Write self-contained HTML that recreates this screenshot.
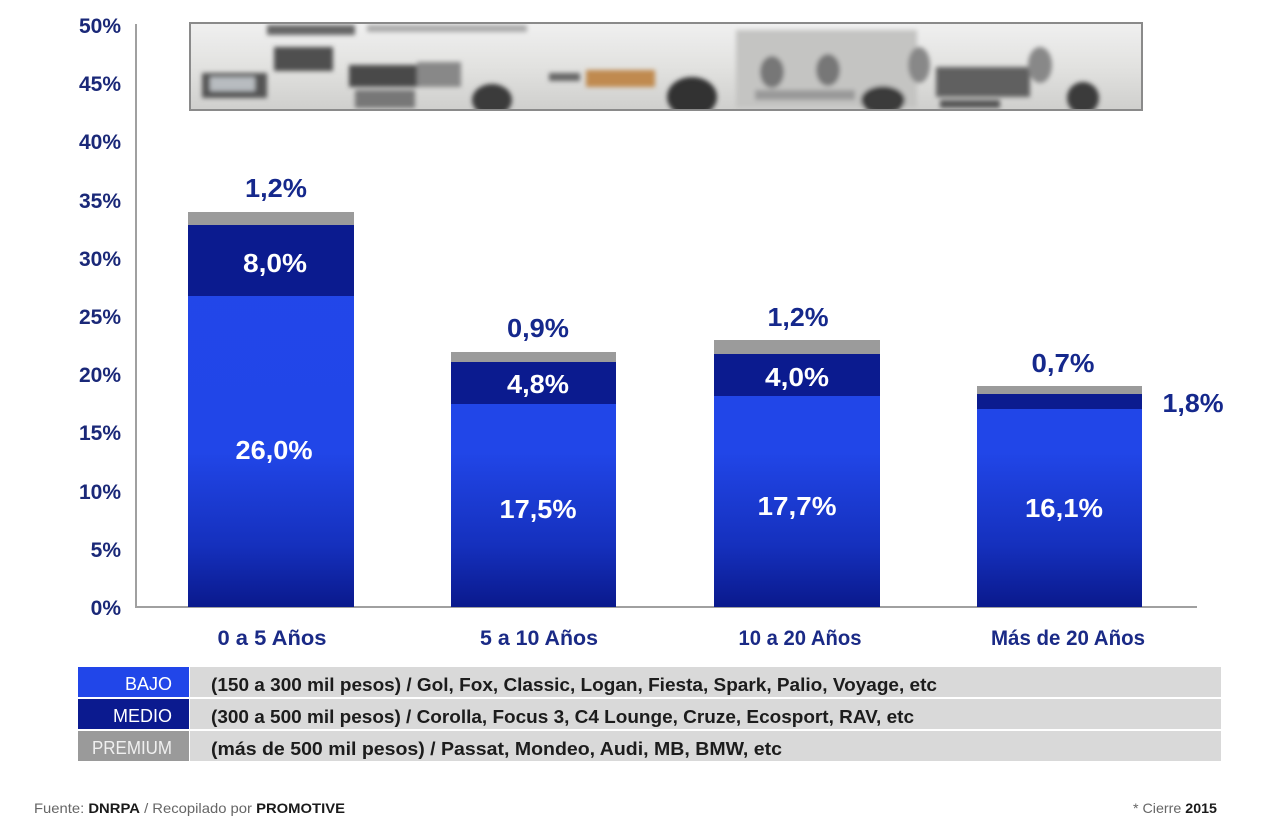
<!DOCTYPE html>
<html><head><meta charset="utf-8"><style>
html,body{margin:0;padding:0;background:#fff;}
svg{display:block;}
text{font-family:"Liberation Sans",sans-serif;}
</style></head><body>
<svg width="1280" height="836" viewBox="0 0 1280 836" xmlns="http://www.w3.org/2000/svg">
<defs>
<linearGradient id="bg" gradientUnits="userSpaceOnUse" x1="0" y1="200" x2="0" y2="607">
<stop offset="0" stop-color="#2247ea"/>
<stop offset="0.62" stop-color="#2146e8"/>
<stop offset="0.85" stop-color="#1530bd"/>
<stop offset="1" stop-color="#0a198c"/>
</linearGradient>
<linearGradient id="photo" x1="0" y1="0" x2="0" y2="1">
<stop offset="0" stop-color="#f0f0f0"/>
<stop offset="0.5" stop-color="#e2e2e0"/>
<stop offset="1" stop-color="#cfcfcd"/>
</linearGradient>
<filter id="bl"><feGaussianBlur stdDeviation="2.5"/></filter>
<clipPath id="pc"><rect x="190" y="23" width="952" height="87"/></clipPath>
</defs>

<!-- photo strip -->
<rect x="190" y="23" width="952" height="87" fill="url(#photo)"/>
<g clip-path="url(#pc)">
<g filter="url(#bl)">
<rect x="267" y="25" width="88" height="10" fill="#666"/>
<rect x="367" y="25" width="160" height="7" fill="#aaa"/>
<rect x="202" y="73" width="65" height="25" fill="#555"/>
<rect x="210" y="77" width="45" height="14" fill="#b8bcc0"/>
<rect x="274" y="47" width="59" height="24" fill="#505050"/>
<rect x="349" y="65" width="68" height="22" fill="#4a4a4a"/>
<rect x="417" y="62" width="44" height="25" fill="#888"/>
<rect x="355" y="90" width="60" height="18" fill="#777"/>
<ellipse cx="492" cy="100" rx="20" ry="16" fill="#3a3a3a"/>
<rect x="549" y="73" width="31" height="8" fill="#666"/>
<rect x="586" y="70" width="69" height="17" fill="#c08a50"/>
<ellipse cx="692" cy="97" rx="25" ry="20" fill="#333"/>
<rect x="736" y="30" width="181" height="78" fill="#c4c4c2"/>
<ellipse cx="772" cy="72" rx="12" ry="16" fill="#777"/>
<ellipse cx="828" cy="70" rx="12" ry="16" fill="#777"/>
<rect x="755" y="90" width="100" height="10" fill="#999"/>
<ellipse cx="883" cy="100" rx="22" ry="14" fill="#3a3a3a"/>
<rect x="936" y="67" width="94" height="30" fill="#606060"/>
<ellipse cx="919" cy="65" rx="11" ry="18" fill="#888"/>
<ellipse cx="1040" cy="65" rx="12" ry="18" fill="#888"/>
<ellipse cx="1083" cy="98" rx="16" ry="16" fill="#3a3a3a"/>
<rect x="940" y="100" width="60" height="8" fill="#555"/>
</g>
</g>
<rect x="190" y="23" width="952" height="87" fill="none" stroke="#8a8a8a" stroke-width="2"/>

<!-- axes -->
<line x1="136" y1="24" x2="136" y2="608" stroke="#a0a0a0" stroke-width="2"/>
<line x1="135" y1="607" x2="1197" y2="607" stroke="#a0a0a0" stroke-width="2"/>

<!-- y labels -->
<g font-size="21" font-weight="bold" fill="#1a2878" text-anchor="end">
<text x="121" y="33">50%</text>
<text x="121" y="91">45%</text>
<text x="121" y="149">40%</text>
<text x="121" y="208">35%</text>
<text x="121" y="266">30%</text>
<text x="121" y="324">25%</text>
<text x="121" y="382">20%</text>
<text x="121" y="440">15%</text>
<text x="121" y="499">10%</text>
<text x="121" y="557">5%</text>
<text x="121" y="615">0%</text>
</g>

<!-- bars -->
<g>
<rect x="188" y="212" width="166" height="13" fill="#9b9b9b"/>
<rect x="188" y="225" width="166" height="71" fill="#0b1b8f"/>
<rect x="188" y="296" width="166" height="311" fill="url(#bg)"/>

<rect x="451" y="352" width="165" height="10" fill="#9b9b9b"/>
<rect x="451" y="362" width="165" height="42" fill="#0b1b8f"/>
<rect x="451" y="404" width="165" height="203" fill="url(#bg)"/>

<rect x="714" y="340" width="166" height="14" fill="#9b9b9b"/>
<rect x="714" y="354" width="166" height="42" fill="#0b1b8f"/>
<rect x="714" y="396" width="166" height="211" fill="url(#bg)"/>

<rect x="977" y="386" width="165" height="8" fill="#9b9b9b"/>
<rect x="977" y="394" width="165" height="15" fill="#0b1b8f"/>
<rect x="977" y="409" width="165" height="198" fill="url(#bg)"/>
</g>

<!-- value labels -->
<g font-size="26" font-weight="bold" fill="#15288c" text-anchor="middle">
<text x="276" y="197" textLength="62" lengthAdjust="spacingAndGlyphs">1,2%</text>
<text x="538" y="337" textLength="62" lengthAdjust="spacingAndGlyphs">0,9%</text>
<text x="798" y="326" textLength="61" lengthAdjust="spacingAndGlyphs">1,2%</text>
<text x="1063" y="372" textLength="63" lengthAdjust="spacingAndGlyphs">0,7%</text>
<text x="1193" y="412" textLength="61" lengthAdjust="spacingAndGlyphs">1,8%</text>
</g>
<g font-size="26" font-weight="bold" fill="#ffffff" text-anchor="middle">
<text x="275" y="272" textLength="64" lengthAdjust="spacingAndGlyphs">8,0%</text>
<text x="538" y="393" textLength="62" lengthAdjust="spacingAndGlyphs">4,8%</text>
<text x="797" y="386" textLength="64" lengthAdjust="spacingAndGlyphs">4,0%</text>
<text x="274" y="459" textLength="77" lengthAdjust="spacingAndGlyphs">26,0%</text>
<text x="538" y="518" textLength="77" lengthAdjust="spacingAndGlyphs">17,5%</text>
<text x="797" y="515" textLength="79" lengthAdjust="spacingAndGlyphs">17,7%</text>
<text x="1064" y="517" textLength="78" lengthAdjust="spacingAndGlyphs">16,1%</text>
</g>

<!-- category labels -->
<g font-size="21" font-weight="bold" fill="#1a2a86" text-anchor="middle">
<text x="272" y="645" textLength="109" lengthAdjust="spacingAndGlyphs">0 a 5 Años</text>
<text x="539" y="645" textLength="118" lengthAdjust="spacingAndGlyphs">5 a 10 Años</text>
<text x="800" y="645" textLength="123" lengthAdjust="spacingAndGlyphs">10 a 20 Años</text>
<text x="1068" y="645" textLength="154" lengthAdjust="spacingAndGlyphs">Más de 20 Años</text>
</g>

<!-- legend table -->
<rect x="78" y="667" width="111" height="30" fill="#2146e9"/>
<rect x="78" y="699" width="111" height="30" fill="#0b1a8f"/>
<rect x="78" y="731" width="111" height="30" fill="#9a9a9a"/>
<rect x="190" y="667" width="1031" height="30" fill="#d9d9d9"/>
<rect x="190" y="699" width="1031" height="30" fill="#d9d9d9"/>
<rect x="190" y="731" width="1031" height="30" fill="#d9d9d9"/>
<g font-size="18" fill="#ffffff" text-anchor="end">
<text x="172" y="690">BAJO</text>
<text x="172" y="722">MEDIO</text>
<text x="172" y="754" fill="#f0f0f0" textLength="80" lengthAdjust="spacingAndGlyphs">PREMIUM</text>
</g>
<g font-size="18" font-weight="bold" fill="#1c1c1c">
<text x="211" y="691" textLength="726" lengthAdjust="spacingAndGlyphs">(150 a 300 mil pesos) / Gol, Fox, Classic, Logan, Fiesta, Spark, Palio, Voyage, etc</text>
<text x="211" y="723" textLength="703" lengthAdjust="spacingAndGlyphs">(300 a 500 mil pesos) / Corolla, Focus 3, C4 Lounge, Cruze, Ecosport, RAV, etc</text>
<text x="211" y="755" textLength="571" lengthAdjust="spacingAndGlyphs">(más de 500 mil pesos) / Passat, Mondeo, Audi, MB, BMW, etc</text>
</g>

<!-- footer -->
<text x="34" y="813" font-size="14" fill="#666" textLength="311" lengthAdjust="spacingAndGlyphs">Fuente: <tspan font-weight="bold" fill="#1a1a1a">DNRPA</tspan> / Recopilado por <tspan font-weight="bold" fill="#1a1a1a">PROMOTIVE</tspan></text>
<text x="1133" y="813" font-size="14" fill="#666" textLength="84" lengthAdjust="spacingAndGlyphs">* Cierre <tspan font-weight="bold" fill="#1a1a1a">2015</tspan></text>
</svg>
</body></html>
